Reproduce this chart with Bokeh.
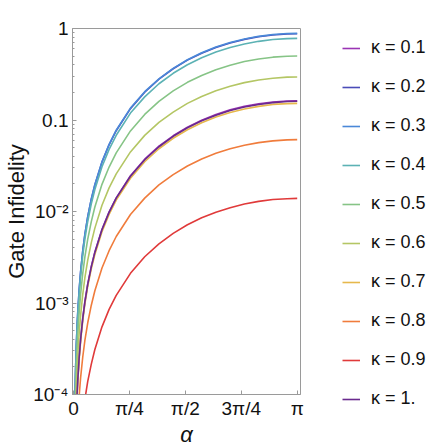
import math
from bokeh.plotting import figure
from bokeh.models import FixedTicker, Legend, LegendItem, Range1d
from bokeh.embed import file_html
from bokeh.resources import INLINE

alpha = [0.01, 0.015, 0.02, 0.03, 0.04, 0.05, 0.06, 0.08, 0.1, 0.13, 0.16, 0.2, 0.25, 0.3,
         0.4, 0.5, 0.6, 0.8, 1.0, 1.2, 1.4, 1.6, 1.8, 2.0, 2.2, 2.4, 2.6, 2.8, 3.0, 3.1416]

k01 = [4.05e-6, 9.12e-6, 1.62e-5, 3.65e-5, 6.48e-5, 1.01e-4, 1.46e-4, 2.59e-4, 4.05e-4, 6.84e-4,
       1.04e-3, 1.62e-3, 2.51e-3, 3.61e-3, 6.40e-3, 9.91e-3, 0.0141, 0.0246, 0.0373, 0.0517,
       0.0672, 0.0834, 0.0995, 0.115, 0.129, 0.141, 0.150, 0.157, 0.161, 0.162]
k02 = [2.19e-5, 4.93e-5, 8.75e-5, 1.97e-4, 3.50e-4, 5.47e-4, 7.88e-4, 1.40e-3, 2.19e-3, 3.69e-3,
       5.59e-3, 8.72e-3, 0.0136, 0.0195, 0.0346, 0.0536, 0.0764, 0.133, 0.201, 0.279,
       0.363, 0.451, 0.537, 0.620, 0.695, 0.760, 0.812, 0.850, 0.871, 0.875]
k03 = [2.21e-5, 4.98e-5, 8.85e-5, 1.99e-4, 3.54e-4, 5.53e-4, 7.97e-4, 1.42e-3, 2.21e-3, 3.73e-3,
       5.66e-3, 8.82e-3, 0.0137, 0.0197, 0.0350, 0.0542, 0.0773, 0.135, 0.204, 0.282,
       0.367, 0.456, 0.543, 0.627, 0.703, 0.769, 0.821, 0.859, 0.881, 0.885]
k04 = [1.95e-5, 4.39e-5, 7.8e-5, 1.76e-4, 3.12e-4, 4.88e-4, 7.02e-4, 1.25e-3, 1.95e-3, 3.29e-3,
       4.98e-3, 7.78e-3, 0.0121, 0.0174, 0.0308, 0.0477, 0.0681, 0.119, 0.179, 0.249,
       0.324, 0.402, 0.479, 0.552, 0.619, 0.678, 0.724, 0.757, 0.776, 0.78]
k05 = [1.25e-5, 2.82e-5, 5.0e-5, 1.13e-4, 2.0e-4, 3.13e-4, 4.5e-4, 8.0e-4, 1.25e-3, 2.11e-3,
       3.2e-3, 4.99e-3, 7.75e-3, 0.0112, 0.0198, 0.0306, 0.0437, 0.076, 0.115, 0.160,
       0.208, 0.258, 0.307, 0.354, 0.397, 0.435, 0.464, 0.486, 0.498, 0.50]
k06 = [7.38e-6, 1.66e-5, 2.95e-5, 6.64e-5, 1.18e-4, 1.84e-4, 2.66e-4, 4.72e-4, 7.38e-4, 1.24e-3,
       1.89e-3, 2.94e-3, 4.57e-3, 6.58e-3, 0.0117, 0.0181, 0.0258, 0.0448, 0.0679, 0.0941,
       0.122, 0.152, 0.181, 0.209, 0.234, 0.256, 0.274, 0.286, 0.294, 0.295]
k07 = [3.8e-6, 8.56e-6, 1.52e-5, 3.42e-5, 6.08e-5, 9.5e-5, 1.37e-4, 2.43e-4, 3.8e-4, 6.41e-4,
       9.71e-4, 1.52e-3, 2.36e-3, 3.39e-3, 6.0e-3, 9.3e-3, 0.0133, 0.0231, 0.035, 0.0485,
       0.0631, 0.0783, 0.0933, 0.108, 0.121, 0.132, 0.141, 0.148, 0.151, 0.152]
k08 = [1.53e-6, 3.43e-6, 6.1e-6, 1.37e-5, 2.44e-5, 3.81e-5, 5.49e-5, 9.76e-5, 1.53e-4, 2.57e-4,
       3.9e-4, 6.08e-4, 9.46e-4, 1.36e-3, 2.41e-3, 3.73e-3, 5.33e-3, 9.27e-3, 0.014, 0.0195,
       0.0253, 0.0314, 0.0375, 0.0432, 0.0484, 0.053, 0.0566, 0.0592, 0.0607, 0.061]
k09 = [3.48e-7, 7.82e-7, 1.39e-6, 3.13e-6, 5.56e-6, 8.69e-6, 1.25e-5, 2.22e-5, 3.48e-5, 5.87e-5,
       8.88e-5, 1.39e-4, 2.15e-4, 3.1e-4, 5.49e-4, 8.51e-4, 1.21e-3, 2.11e-3, 3.2e-3, 4.43e-3,
       5.77e-3, 7.16e-3, 8.53e-3, 9.84e-3, 0.011, 0.0121, 0.0129, 0.0135, 0.0138, 0.0139]
k10 = [4.0e-6, 9.0e-6, 1.6e-5, 3.6e-5, 6.4e-5, 1.0e-4, 1.44e-4, 2.56e-4, 4.0e-4, 6.75e-4,
       1.02e-3, 1.6e-3, 2.48e-3, 3.57e-3, 6.32e-3, 9.79e-3, 0.0140, 0.0243, 0.0368, 0.0510,
       0.0664, 0.0824, 0.0982, 0.113, 0.127, 0.139, 0.148, 0.155, 0.159, 0.160]

series = [k01, k02, k03, k04, k05, k06, k07, k08, k09, k10]
labels = ["κ = 0.1", "κ = 0.2", "κ = 0.3", "κ = 0.4", "κ = 0.5",
          "κ = 0.6", "κ = 0.7", "κ = 0.8", "κ = 0.9", "κ = 1."]
colors = ["#9a34b4", "#4a4cb8", "#4a88d8", "#5cb2b4", "#86c486",
          "#b4c664", "#e6b84c", "#f07c3c", "#e03a3a", "#6a2a8e"]

x_ticks = [0, math.pi / 4, math.pi / 2, 3 * math.pi / 4, math.pi]
x_tick_labels = ["0", "π/4", "π/2", "3π/4", "π"]
y_ticks = [1e-4, 1e-3, 1e-2, 0.1, 1.0]
y_tick_labels = ["10⁻⁴", "10⁻³", "10⁻²", "0.1", "1"]

FONT = "Liberation Sans"

p = figure(y_axis_type="log",
           x_range=Range1d(-0.014, 3.188), y_range=Range1d(1e-4, 1.0),
           frame_width=228, frame_height=366,
           min_border_left=72, min_border_right=136,
           min_border_top=28, min_border_bottom=50,
           output_backend="svg", toolbar_location=None)
p.xgrid.visible = False
p.ygrid.visible = False
p.outline_line_color = "#9a9a9a"
p.outline_line_width = 1

items = []
for ys, lab, col in zip(series, labels, colors):
    r = p.line(alpha, ys, line_color=col, line_width=1.6)
    items.append(LegendItem(label=lab, renderers=[r]))

minor = []
for d in [1e-4, 1e-3, 1e-2, 0.1]:
    for m in range(2, 10):
        minor.append(d * m)

p.yaxis.ticker = FixedTicker(ticks=y_ticks, minor_ticks=minor)
p.yaxis.major_label_overrides = {t: l for t, l in zip(y_ticks, y_tick_labels)}
p.xaxis.ticker = FixedTicker(ticks=x_ticks, minor_ticks=[])
p.xaxis.major_label_overrides = {t: l for t, l in zip(x_ticks, x_tick_labels)}

for ax in (p.xaxis[0], p.yaxis[0]):
    ax.axis_line_color = "#9a9a9a"
    ax.major_tick_line_color = "#9a9a9a"
    ax.minor_tick_line_color = "#9a9a9a"
    ax.major_tick_in = 4
    ax.major_tick_out = 0
    ax.minor_tick_in = 2
    ax.minor_tick_out = 0
    ax.major_label_text_font = FONT
    ax.major_label_text_font_size = "19px"
    ax.major_label_text_color = "#111111"

p.yaxis.major_label_standoff = 4
p.xaxis.major_label_standoff = 3

p.xaxis.axis_label = "α"
p.xaxis.axis_label_text_font = FONT
p.xaxis.axis_label_text_font_size = "22px"
p.xaxis.axis_label_text_font_style = "italic"
p.xaxis.axis_label_text_color = "#111111"
p.xaxis.axis_label_standoff = 0

p.yaxis.axis_label = "Gate Infidelity"
p.yaxis.axis_label_text_font = FONT
p.yaxis.axis_label_text_font_size = "22px"
p.yaxis.axis_label_text_font_style = "normal"
p.yaxis.axis_label_text_color = "#111111"
p.yaxis.axis_label_standoff = 1

legend = Legend(items=items, location=(42, -15), padding=0, margin=0, spacing=18,
                glyph_height=20, label_height=20, glyph_width=18, label_standoff=11,
                label_text_font=FONT, label_text_font_size="18px",
                label_text_color="#111111",
                background_fill_alpha=0, border_line_alpha=0)
p.add_layout(legend, "right")

open("out.html", "w").write(file_html(p, INLINE))
